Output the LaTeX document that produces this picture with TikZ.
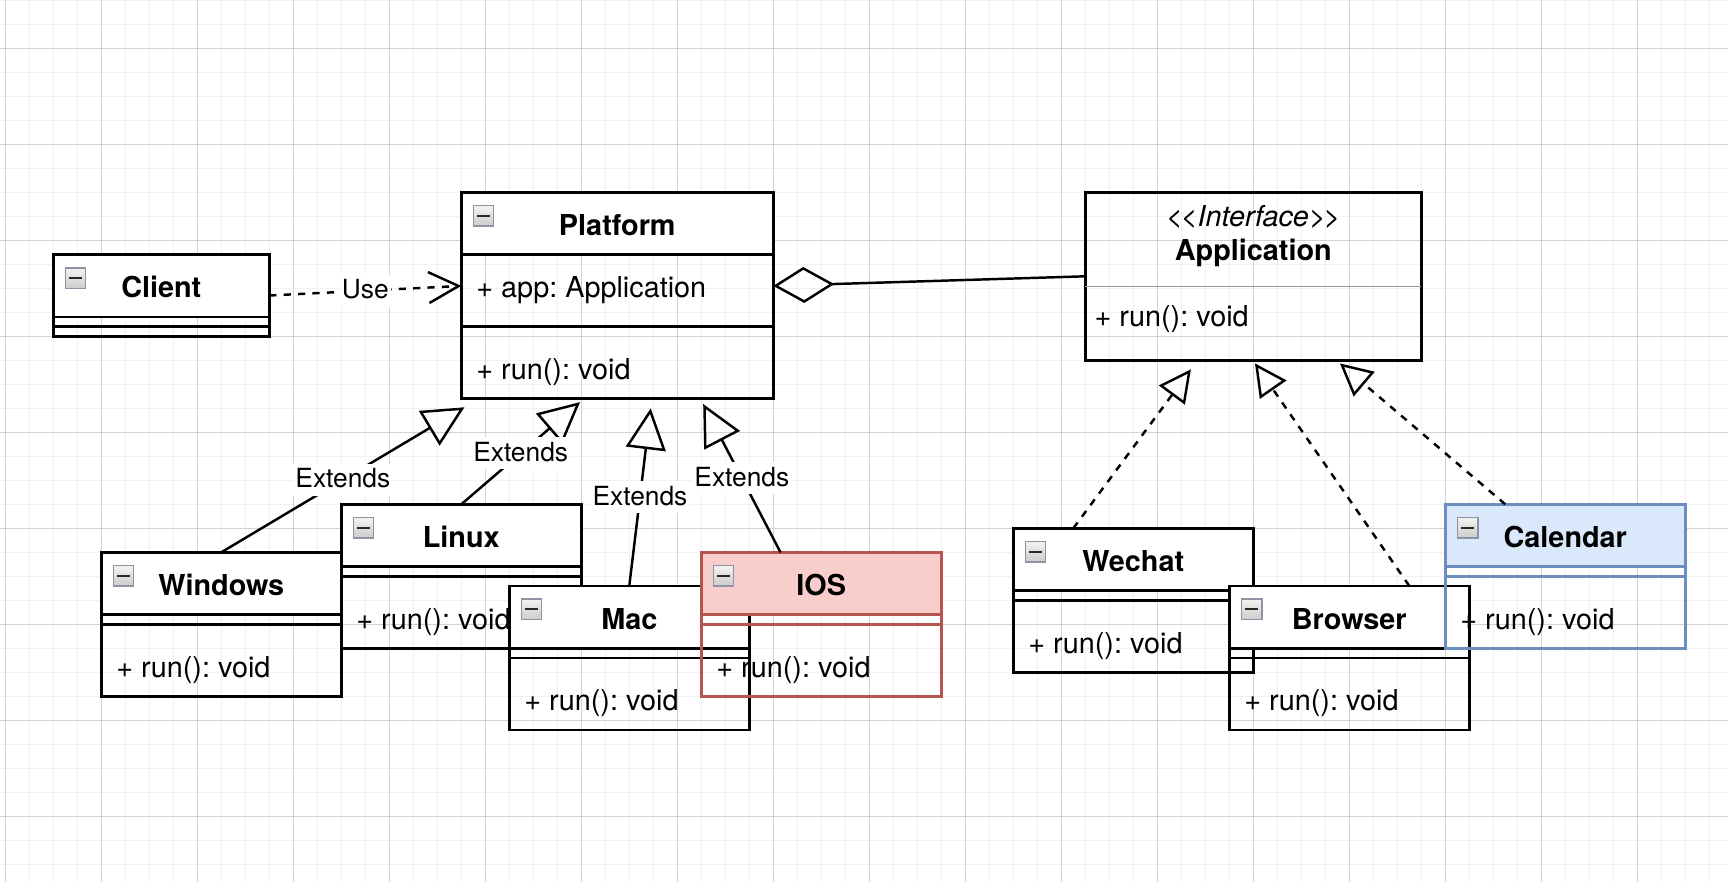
\documentclass[tikz,border=0pt]{standalone}
\usepackage{fontspec}
\setmainfont{TeX Gyre Heros}
\usepackage{tikz}
\usetikzlibrary{positioning, arrows.meta}
\frenchspacing
\definecolor{gridmajor}{HTML}{D2D2D2}
\definecolor{gridminor}{HTML}{F1F1F1}
\definecolor{iosfill}{HTML}{F8CECC}
\definecolor{iosline}{HTML}{B85450}
\definecolor{calfill}{HTML}{DAE8FC}
\definecolor{calline}{HTML}{6C8EBF}
\definecolor{foldline}{HTML}{8E93A3}
\definecolor{hrgray}{HTML}{999999}
\tikzset{head/.style={draw, line width=0.7pt, fill=white, anchor=north west, outer sep=0pt, inner sep=0pt,
    minimum width=2.4cm, minimum height=0.624cm, text height=8.6pt, text depth=1.8pt,
    font=\fontsize{8.2}{9.8}\selectfont\bfseries},
  body/.style={draw, line width=0.7pt, outer sep=0pt, inner sep=0pt, minimum width=2.4cm, minimum height=0.816cm},
  member/.style={anchor=west, inner sep=0pt, text height=8.6pt, text depth=1.8pt, font=\fontsize{8.2}{9.8}\selectfont},
  fold/.style={anchor=north west, draw=foldline, line width=0.45pt, top color=gray!10, bottom color=gray!40,
    minimum size=0.204cm, inner sep=0pt, outer sep=0pt,
    path picture={\draw[line width=0.6pt, black!85] ([xshift=0.035cm]path picture bounding box.west) -- ([xshift=-0.035cm]path picture bounding box.east);}},
  lbl/.style={fill=white, inner sep=0.6pt, text height=6.2pt, text depth=1.6pt, font=\fontsize{7.5}{9}\selectfont},
  line/.style={line width=0.7pt},
  ext/.style={line, -{Triangle[open, length=0.41cm, width=0.40cm]}},
  impl/.style={line, dash pattern=on 0.072cm off 0.072cm, -{Triangle[open, length=0.32cm, width=0.32cm]}},
  uses/.style={line, dash pattern=on 0.072cm off 0.072cm, -{Straight Barb[length=0.3cm, width=0.31cm]}},
  agg/.style={line, {Diamond[open, length=0.61cm, width=0.36cm]}-}
}
% one class box with an empty field part and a run() method
\newcommand{\runclass}[6]{%
  \node[head, draw=#5, fill=#6] (#1) at (#2,#3) {#4};
  \node[body, draw=#5, below=0pt of #1] (#1-b) {};
  \draw[line, #5] ([yshift=-0.096cm]#1-b.north west) -- ([yshift=-0.096cm]#1-b.north east);
  \node[member] (#1-m) at ([xshift=0.144cm, yshift=0.312cm]#1-b.south west) {+ run(): void};
  \node[fold] (#1-f) at ([xshift=0.12cm, yshift=-0.132cm]#1.north west) {};
}

\begin{document}
\frenchspacing
\begin{tikzpicture}[x=0.024cm, y=-0.024cm]
\useasboundingbox (-2.21,-20.125) rectangle (717.79,347.375);
\fill[white] (-2.21,-20.125) rectangle (717.79,347.375);
% background grid
\foreach \gx in {0,10,...,710} \draw[gridminor, line width=0.4pt] (\gx,-20.125) -- (\gx,347.375);
\foreach \gy in {-20,-10,...,340} \draw[gridminor, line width=0.4pt] (-2.21,\gy) -- (717.79,\gy);
\foreach \gx in {0,40,...,680} \draw[gridmajor, line width=0.3pt] (\gx,-20.125) -- (\gx,347.375);
\foreach \gy in {0,40,...,320} \draw[gridmajor, line width=0.3pt] (-2.21,\gy) -- (717.79,\gy);

% client
\node[head, minimum width=2.16cm] (cli) at (20,86) {Client};
\node[body, minimum width=2.16cm, minimum height=0.192cm, below=0pt of cli] (cli-b) {};
\draw[line] (cli-b.west) -- (cli-b.east);
\node[fold] (cli-f) at ([xshift=0.12cm, yshift=-0.132cm]cli.north west) {};

% platform
\node[head, minimum width=3.12cm] (plat) at (190,60) {Platform};
\node[body, minimum width=3.12cm, minimum height=0.72cm, below=0pt of plat] (plat-a) {};
\node[body, minimum width=3.12cm, minimum height=0.72cm, below=0pt of plat-a] (plat-b) {};
\node[member] (plat-am) at ([xshift=0.144cm, yshift=-0.312cm]plat-a.north west) {+ app: Application};
\node[member] (plat-bm) at ([xshift=0.144cm, yshift=0.312cm]plat-b.south west) {+ run(): void};
\node[fold] (plat-f) at ([xshift=0.12cm, yshift=-0.132cm]plat.north west) {};

% the interface
\node[body, anchor=north west, minimum width=3.36cm, minimum height=1.68cm] (app) at (450,60) {};
\node[member, anchor=center, font=\fontsize{8.2}{9.8}\selectfont\itshape] (app-s) at ([yshift=-0.22cm]app.north) {<\kern-0.6pt<Interface>\kern-0.6pt>};
\node[member, anchor=center, font=\fontsize{8.2}{9.8}\selectfont\bfseries] (app-n) at ([yshift=-0.56cm]app.north) {Application};
\draw[hrgray, line width=0.4pt] ([yshift=-0.943cm]app.north west) -- ([yshift=-0.943cm]app.north east);
\node[member] (app-m) at ([xshift=0.086cm, yshift=-1.22cm]app.north west) {+ run(): void};

% platforms
\runclass{win}{40}{210}{Windows}{black}{white}
\runclass{lin}{140}{190}{Linux}{black}{white}
\runclass{mac}{210}{224}{Mac}{black}{white}
\runclass{ios}{290}{210}{IOS}{iosline}{iosfill}
% applications
\runclass{wec}{420}{200}{Wechat}{black}{white}
\runclass{bro}{510}{224}{Browser}{black}{white}
\runclass{cal}{600}{190}{Calendar}{calline}{calfill}

\draw[uses] ([yshift=-0.408cm]cli.north east) -- node[lbl]{Use} ([yshift=0.048cm]plat-a.west);
\draw[agg] ([yshift=0.048cm]plat-a.east) -- (app.west);
\draw[ext] (win.north) -- node[lbl]{Extends} ([xshift=0.031cm, yshift=-0.086cm]plat-b.south west);
\draw[ext] (lin.north) -- node[lbl]{Extends} ([xshift=1.188cm, yshift=-0.034cm]plat-b.south west);
\draw[ext] (mac.north) -- node[lbl]{Extends} ([xshift=1.894cm, yshift=-0.096cm]plat-b.south west);
\draw[ext] ([xshift=-0.408cm]ios.north) -- node[lbl]{Extends} ([xshift=2.419cm, yshift=-0.053cm]plat-b.south west);
\draw[impl] ([xshift=-0.6cm]wec.north) -- ([xshift=1.056cm, yshift=-0.091cm]app.south west);
\draw[impl] ([xshift=0.6cm]bro.north) -- ([xshift=1.697cm, yshift=-0.031cm]app.south west);
\draw[impl] ([xshift=-0.6cm]cal.north) -- ([xshift=2.546cm, yshift=-0.031cm]app.south west);
\end{tikzpicture}
\end{document}
